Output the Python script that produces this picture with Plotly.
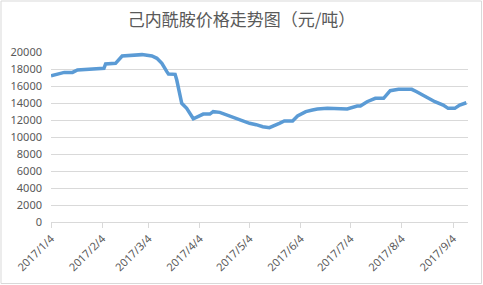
import plotly.graph_objects as go

dates = ["2017-01-04","2017-01-12","2017-01-17","2017-01-20","2017-02-05","2017-02-06",
         "2017-02-12","2017-02-16","2017-02-28","2017-03-06","2017-03-09","2017-03-12",
         "2017-03-15","2017-03-16","2017-03-20","2017-03-21","2017-03-24","2017-03-27",
         "2017-03-31","2017-04-06","2017-04-10","2017-04-12","2017-04-16","2017-04-20",
         "2017-04-24","2017-04-28","2017-05-04","2017-05-08","2017-05-12","2017-05-16",
         "2017-05-19","2017-05-22","2017-05-25","2017-05-30","2017-06-02","2017-06-07",
         "2017-06-11","2017-06-14","2017-06-20","2017-06-26","2017-07-02","2017-07-08",
         "2017-07-10","2017-07-14","2017-07-19","2017-07-24","2017-07-28","2017-08-02",
         "2017-08-10","2017-08-13","2017-08-19","2017-08-24","2017-08-29","2017-09-01",
         "2017-09-05","2017-09-08","2017-09-12"]
prices = [17200,17600,17600,17880,18080,18590,
          18670,19530,19690,19530,19260,18670,
          17690,17410,17370,16700,13960,13370,
          12150,12700,12700,12980,12900,12590,
          12390,12000,11610,11450,11210,11100,
          11410,11610,11880,11880,12470,12980,
          13180,13290,13370,13290,13290,13650,
          13650,14150,14550,14550,15450,15610,
          15610,15330,14670,14150,13760,13370,
          13370,13760,14030]

tick_vals = ["2017-01-04","2017-02-04","2017-03-04","2017-04-04","2017-05-04",
             "2017-06-04","2017-07-04","2017-08-04","2017-09-04"]
tick_text = ["2017/1/4","2017/2/4","2017/3/4","2017/4/4","2017/5/4",
             "2017/6/4","2017/7/4","2017/8/4","2017/9/4"]
y_ticks = list(range(0, 20001, 2000))
y_text = [str(v) for v in y_ticks]
title = "己内酰胺价格走势图（元/吨）"

W, H = 483, 285
ML, MR, MT, MB = 51, 15, 52, 63
pw, ph = W - ML - MR, H - MT - MB

fig = go.Figure()
fig.add_trace(go.Scatter(x=dates, y=prices, mode="lines",
                         line=dict(color="#5b9bd5", width=3.5),
                         hoverinfo="skip"))

# chart border
fig.add_shape(type="rect", xref="paper", yref="paper",
              x0=(1 - ML) / pw, x1=(W - 1.5 - ML) / pw,
              y0=-(H - 1.5 - MT - ph) / ph, y1=(H - 1 - MB) / ph,
              line=dict(color="#d9d9d9", width=1), layer="below")

fig.update_layout(
    width=W, height=H,
    margin=dict(l=ML, r=MR, t=MT, b=MB),
    paper_bgcolor="white", plot_bgcolor="white",
    showlegend=False,
    font=dict(family="Noto Sans CJK SC, Noto Sans", color="#595959", size=11),
    title=dict(text=title, x=0.5, xanchor="center", y=1 - 20 / H, yanchor="middle",
               font=dict(size=17, color="#595959", family="Noto Sans CJK SC")),
    xaxis=dict(type="date", range=["2017-01-04", "2017-09-13"],
               tickvals=tick_vals, ticktext=tick_text, tickangle=-45,
               showgrid=False, showline=True, linecolor="#d9d9d9", linewidth=1,
               ticks="outside", ticklen=5, tickcolor="#d9d9d9",
               tickfont=dict(size=11, color="#595959", family="Noto Sans"),
               zeroline=False, fixedrange=True),
    yaxis=dict(range=[0, 20000], tickvals=y_ticks, ticktext=y_text,
               showgrid=True, gridcolor="#d9d9d9", gridwidth=1,
               zeroline=False, showline=False, ticks="",
               ticklabelstandoff=8,
               tickfont=dict(size=11, color="#595959", family="Noto Sans"),
               fixedrange=True),
)

fig.write_html("out.html", config={"displayModeBar": False})
